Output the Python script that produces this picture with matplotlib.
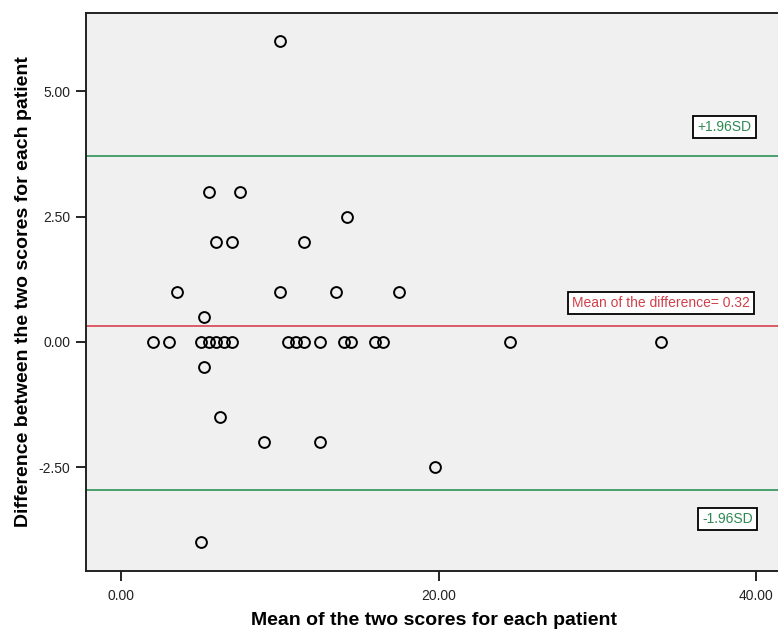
import numpy as np
import matplotlib
matplotlib.use('Agg')
import matplotlib.pyplot as plt

plt.rcParams['font.family'] = ['Liberation Sans', 'DejaVu Sans']

# mean of the two scores (x) and difference between them (y)
mean_scores = [10.0,
               5.5, 7.5,
               14.2,
               6.0, 7.0, 11.5,
               3.5, 10.0, 13.5, 17.5,
               5.2,
               2.0, 3.0, 5.0, 5.5, 6.0, 6.5, 7.0, 10.5, 11.0, 11.5, 12.5,
               14.0, 14.5, 16.0, 16.5, 24.5, 34.0,
               5.2,
               6.25,
               9.0, 12.5,
               19.75,
               5.0]
diff_scores = [6.0,
               3.0, 3.0,
               2.5,
               2.0, 2.0, 2.0,
               1.0, 1.0, 1.0, 1.0,
               0.5,
               0, 0, 0, 0, 0, 0, 0, 0, 0, 0, 0,
               0, 0, 0, 0, 0, 0,
               -0.5,
               -1.5,
               -2.0, -2.0,
               -2.5,
               -4.0]

mean_diff = 0.32
upper_loa = 3.71
lower_loa = -2.95

xticks = [0, 20, 40]
yticks = [-2.5, 0, 2.5, 5.0]

green = '#3b9a62'
red = '#d9505a'

fig = plt.figure(figsize=(7.78, 6.3), dpi=100)
ax = fig.add_axes([0.110, 0.0937, 0.895, 0.886])
ax.set_facecolor('#f0f0f0')

ax.plot(mean_scores, diff_scores, 'o', ms=7.8, mfc='none', mec='black', mew=1.4, zorder=3)

ax.axhline(mean_diff, color=red, lw=1.3, zorder=2)
ax.axhline(upper_loa, color=green, lw=1.3, zorder=2)
ax.axhline(lower_loa, color=green, lw=1.3, zorder=2)

box = dict(boxstyle='square,pad=0.3', fc='white', ec='black', lw=1.3)
ax.text(37.98, 4.29, '+1.96SD', color='#2e8a52', fontsize=10, ha='center', va='center', bbox=box)
ax.text(34.0, 0.78, 'Mean of the difference= 0.32', color='#d0404a', fontsize=10, ha='center', va='center', bbox=box)
ax.text(38.17, -3.53, '-1.96SD', color='#2e8a52', fontsize=10, ha='center', va='center', bbox=box)

ax.set_xlim(-2.24, 41.6)
ax.set_ylim(-4.57, 6.57)
ax.set_xticks(xticks)
ax.set_xticklabels(['%.2f' % v for v in xticks])
ax.set_yticks(yticks)
ax.set_yticklabels(['%.2f' % v for v in yticks])
ax.tick_params(direction='out', length=7, width=1.2, labelsize=10, labelcolor='#222222', pad=4)
ax.tick_params(axis='x', pad=6)

for s in ['left', 'bottom', 'top']:
    ax.spines[s].set_linewidth(1.4)
    ax.spines[s].set_color('#222222')
ax.spines['right'].set_visible(False)

ax.set_xlabel('Mean of the two scores for each patient', fontsize=14, fontweight='bold', labelpad=6.5)
ax.set_ylabel('Difference between the two scores for each patient', fontsize=14, fontweight='bold', labelpad=5)

fig.savefig('out.png', dpi=100)
